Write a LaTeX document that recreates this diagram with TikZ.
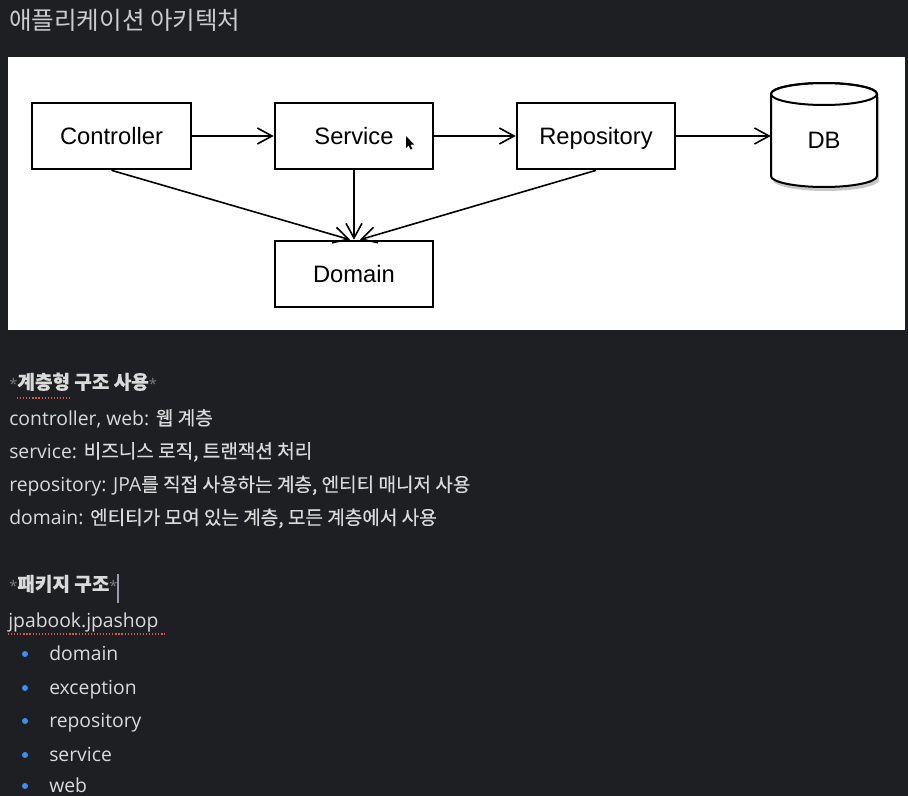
\documentclass[tikz,border=0pt]{standalone}
\usepackage{fontspec}
\setmainfont{Open Sans}
\newfontfamily\hangulfont[FakeBold=0.3]{Noto Sans CJK KR}
\newfontfamily\titlefont{Noto Sans CJK KR}
\newfontfamily\labelfont{Liberation Sans}
\usetikzlibrary{arrows.meta, positioning}
\definecolor{pagebg}{HTML}{1E1F22}
\definecolor{titlegray}{HTML}{C9CDD1}
\definecolor{bodygray}{HTML}{DADADA}
\definecolor{stargray}{HTML}{7C7C7C}
\definecolor{typored}{HTML}{D9534F}
\definecolor{bulletblue}{HTML}{3D8EF0}
\definecolor{caretgray}{HTML}{9A9AB8}
\newcommand\hangul[1]{{\hangulfont\fontsize{14.3}{17}\selectfont #1}}

\begin{document}
\begin{tikzpicture}[x=0.75pt, y=-0.75pt,
  layer/.style={draw=black, line width=1.5pt, fill=white, minimum width=119pt,
    minimum height=50pt, inner sep=0pt, text height=12.7pt, text depth=0pt,
    font=\labelfont\fontsize{17.8}{20}\selectfont},
  dep/.style={line width=1.2pt, -{Straight Barb[length=11pt, width=12pt]}},
  bodytext/.style={anchor=base west, inner sep=0pt, text=bodygray,
    font=\fontsize{14.5}{17}\selectfont},
  typo/.style={typored, line width=1pt, dash pattern=on 0.9pt off 1.4pt}]
  \useasboundingbox (0,0) rectangle (908,796);
  \fill[pagebg] (0,0) rectangle (908,796);

  % title
  \node[anchor=base west, inner sep=0pt, text=titlegray,
    font=\titlefont\fontsize{18.4}{21}\selectfont] (title) at (9,30) {애플리케이션 아키텍처};

  % diagram panel
  \fill[white] (8,57) rectangle (905,330);
  \node[layer] (controller) at (111.5,136) {Controller};
  \node[layer] (service) at (354,136) {Service};
  \node[layer] (repository) at (596,136) {Repository};
  \node[layer] (domain) at (354,274) {Domain};

  % DB cylinder
  \fill[black, opacity=0.22, xshift=1.5pt, yshift=-3pt] (771,94) -- (771,176)
    arc[start angle=180, end angle=0, x radius=53, y radius=11] -- (877,94)
    arc[start angle=0, end angle=-180, x radius=53, y radius=11] -- cycle;
  \draw[line width=1.5pt, fill=white] (771,94) -- (771,176)
    arc[start angle=180, end angle=0, x radius=53, y radius=11] -- (877,94)
    arc[start angle=0, end angle=-180, x radius=53, y radius=11] -- cycle;
  \draw[line width=1.5pt] (824,94) ellipse[x radius=53, y radius=11];
  \node[minimum width=79.5pt, inner sep=0pt, text height=12.7pt, text depth=0pt,
    font=\labelfont\fontsize{17.8}{20}\selectfont] (db) at (824,140) {DB};

  % mouse pointer
  \fill[black] (406,136) -- (406,148) -- (408.6,145.4) -- (410.6,149.6) -- (412.3,148.8)
    -- (410.4,144.8) -- (414,144.5) -- cycle;

  % dependencies
  \draw[dep] (controller) -- (service);
  \draw[dep] (service) -- (repository);
  \draw[dep] (repository.east) -- (repository.east -| db.west);
  \draw[dep] (controller.south) -- ([xshift=-3pt]domain.north);
  \draw[dep] (service.south) -- (domain.north);
  \draw[dep] (repository.south) -- ([xshift=4.5pt]domain.north);

  % layered structure notes
  \node[bodytext] (layers-head) at (9,389) {\textcolor{stargray}{\fontsize{11}{12}\selectfont*}\hangul{\bfseries 계층형 구조 사용}\textcolor{stargray}{\fontsize{11}{12}\selectfont*}};
  \draw[typo] (17,398) -- (70,398);
  \node[bodytext] (note-web) at (9,425) {controller, web: \hangul{웹 계층}};
  \node[bodytext] (note-service) at (9,458) {service: \hangul{비즈니스 로직, 트랜잭션 처리}};
  \node[bodytext] (note-repo) at (9,491.5) {repository: JPA\hangul{를 직접 사용하는 계층, 엔티티 매니저 사용}};
  \node[bodytext] (note-domain) at (9,524.5) {domain: \hangul{엔티티가 모여 있는 계층, 모든 계층에서 사용}};

  % package structure
  \node[bodytext] (pkg-head) at (9,591) {\textcolor{stargray}{\fontsize{11}{12}\selectfont*}\hangul{\bfseries 패키지 구조}\textcolor{stargray}{\fontsize{11}{12}\selectfont*}};
  \draw[caretgray, line width=1.2pt] (118,574) -- (118,603);
  \node[bodytext] (pkg-root) at (8,627) {jpabook.jpashop};
  \draw[typo] (8,634) -- (165,634);
  \foreach \pkg/\y in {domain/660, exception/694, repository/727, service/761, web/792} {
    \fill[bulletblue] (25,\y-6) circle[radius=3];
    \node[bodytext] (pkg-\pkg) at (49,\y) {\pkg};
  }
\end{tikzpicture}
\end{document}
